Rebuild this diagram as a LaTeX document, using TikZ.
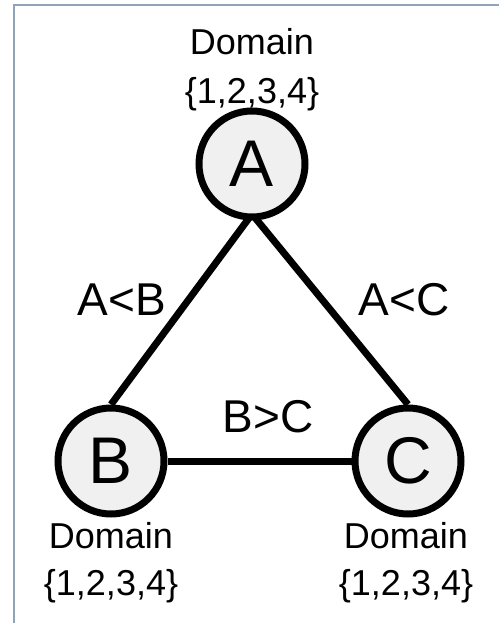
\documentclass[tikz,border=0pt]{standalone}
\usepackage{fontspec}
\setmainfont{Liberation Sans}
\usetikzlibrary{backgrounds}
\definecolor{framecol}{RGB}{143,163,186}
\definecolor{vfill}{RGB}{240,240,240}
\tikzset{
  vert/.style={circle, draw=black, line width=7pt, fill=vfill, minimum size=106pt, inner sep=0pt, font=\fontsize{66}{66}\selectfont},
  edgeline/.style={draw=black, line width=7pt},
  rel/.style={anchor=base, inner sep=0pt, font=\fontsize{46}{46}\selectfont},
  dom/.style={anchor=base, inner sep=0pt, font=\fontsize{36}{36}\selectfont},
}
\begin{document}
\begin{tikzpicture}[x=1pt,y=-1pt]
\useasboundingbox (0,0) rectangle (498,623);
\node[vert] (A) at (252,164) {A};
\node[vert] (B) at (111,461) {B};
\node[vert] (C) at (408,461) {C};
\begin{scope}[on background layer]
\fill[white] (0,0) rectangle (498,623);
\draw[framecol, line width=2pt] (13.5,640) -- (13.5,5) -- (510,5);
\draw[edgeline] (A.center) ++(0,50) coordinate (As) (As) -- (B.north);
\draw[edgeline] (As) -- (C.north);
\draw[edgeline] (B.east) -- (C.west);
\end{scope}
\node[rel] (lAB) at (122,315) {A<B};
\node[rel] (lAC) at (404,315) {A<C};
\node[rel] (lBC) at (268,432) {B>C};
\node[dom] (dA1) at (252,55) {Domain};
\node[dom] (dA2) at (252,103) {\{1,2,3,4\}};
\node[dom] (dB1) at (111,548) {Domain};
\node[dom] (dB2) at (111,595) {\{1,2,3,4\}};
\node[dom] (dC1) at (406,548) {Domain};
\node[dom] (dC2) at (406,595) {\{1,2,3,4\}};
\end{tikzpicture}
\end{document}
